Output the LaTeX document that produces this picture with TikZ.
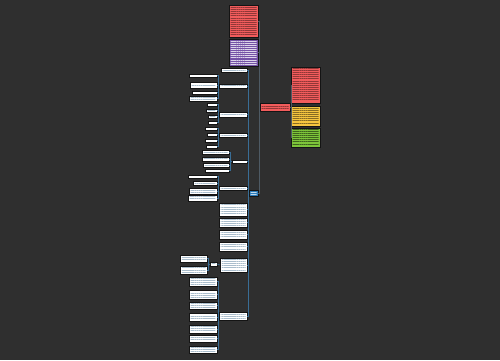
\documentclass[tikz,border=0pt]{standalone}
\usetikzlibrary{patterns.meta}
\definecolor{bg}{HTML}{2F2F2F}
\definecolor{lnc}{HTML}{3A6E96}
\definecolor{lnr}{HTML}{4E5A64}
\definecolor{redb}{HTML}{F25C5C}
\definecolor{purb}{HTML}{7452A6}
\definecolor{yelb}{HTML}{F5C53F}
\definecolor{grnb}{HTML}{7DC43A}
\definecolor{blub}{HTML}{2B7BB9}
\definecolor{wtx}{HTML}{A9BDCC}
\newcommand\bx[6]{\node[#6, minimum width={(#4-#2)*1pt}, minimum height={(#5-#3)*1pt}] (#1) at ({(#2+#4)/2},{(#3+#5)/2}) {};}
\tikzset{
  box/.style={draw=black!92, line width=0.7pt, inner sep=0pt, outer sep=0pt, anchor=center},
  txt/.style={path picture={\fill[pattern={Lines[angle=0,distance=2.1pt,line width=0.35pt]},pattern color=#1]
     ([shift={(1.5,1.3)}]path picture bounding box.north west) rectangle ([shift={(-1.5,-1.3)}]path picture bounding box.south east);}},
  wbox/.style={box, fill=white, txt=wtx},
  rbox/.style={box, fill=redb, txt=redb!60!black},
  pbox/.style={box, fill=purb, txt=white!75!purb},
  ybox/.style={box, fill=yelb, txt=yelb!55!black},
  gbox/.style={box, fill=grnb, txt=grnb!50!black},
  cbox/.style={box, fill=blub, txt=white!70!blub},
  cn/.style={draw=lnc, line width=0.6pt},
  cnr/.style={draw=lnr, line width=0.6pt},
  mainln/.style={draw=lnc, line width=0.8pt},
  mainr/.style={draw=lnr, line width=0.8pt}
}
\begin{document}
\begin{tikzpicture}[x=1pt,y=-1pt]
\fill[bg] (0,0) rectangle (500,360);
\useasboundingbox (0,0) rectangle (500,360);
% centre and right side
\bx{C}{249}{190}{258}{196}{cbox}
\bx{T1}{229}{5}{258}{37}{rbox}
\bx{T2}{229}{39}{258}{66}{pbox}
\bx{RN}{260}{103}{290}{111}{rbox}
\bx{R1}{291}{67}{320}{103}{rbox}
\bx{R2}{291}{106}{320}{126}{ybox}
\bx{R3}{291}{128}{320}{147}{gbox}
% left level 1
\bx{L1}{221}{68}{247}{72}{wbox}
\bx{L2}{219}{84}{247}{88}{wbox}
\bx{L3}{219}{112}{247}{117}{wbox}
\bx{L4}{219}{133}{247}{137}{wbox}
\bx{L5}{232}{160}{247}{163}{wbox}
\bx{L6}{219}{186}{247}{190}{wbox}
\bx{L7}{219}{203}{247}{216}{wbox}
\bx{L8}{219}{218}{247}{227}{wbox}
\bx{L9}{219}{230}{247}{239}{wbox}
\bx{L10}{219}{242}{247}{251}{wbox}
\bx{L11}{220}{258}{247}{272}{wbox}
\bx{L12}{219}{312}{247}{320}{wbox}
% level 2
\bx{a1}{189}{74}{217}{77}{wbox}
\bx{a2}{190}{82}{217}{88}{wbox}
\bx{a3}{192}{91}{217}{94}{wbox}
\bx{a4}{189}{96}{217}{101}{wbox}
\bx{b1}{207}{103}{217}{106}{wbox}
\bx{b2}{206}{109}{217}{112}{wbox}
\bx{b3}{208}{115}{217}{118}{wbox}
\bx{b4}{208}{121}{217}{124}{wbox}
\bx{c1}{205}{127}{217}{130}{wbox}
\bx{c2}{207}{133}{217}{136}{wbox}
\bx{c3}{205}{139}{217}{142}{wbox}
\bx{c4}{206}{145}{217}{148}{wbox}
\bx{d1}{202}{150}{229}{154}{wbox}
\bx{d2}{202}{157}{229}{161}{wbox}
\bx{d3}{203}{163}{229}{167}{wbox}
\bx{d4}{205}{169}{229}{172}{wbox}
\bx{e1}{188}{175}{217}{178}{wbox}
\bx{e2}{193}{181}{217}{185}{wbox}
\bx{e3}{189}{188}{217}{194}{wbox}
\bx{e4}{188}{195}{217}{201}{wbox}
\bx{s}{210}{262}{217}{266}{wbox}
\bx{g1}{180}{255}{207}{262}{wbox}
\bx{g2}{180}{266}{207}{274}{wbox}
\bx{f1}{189}{277}{217}{286}{wbox}
\bx{f2}{189}{290}{217}{299}{wbox}
\bx{f3}{189}{302}{217}{309}{wbox}
\bx{f4}{189}{313}{217}{321}{wbox}
\bx{f5}{189}{325}{217}{333}{wbox}
\bx{f6}{189}{335}{217}{342}{wbox}
\bx{f7}{189}{346}{217}{353}{wbox}
% connectors
\foreach \n in {L1,L2,L3,L4,L5,L6,L7,L8,L9,L10,L11,L12}
  \draw[mainln] (C.west) -- ++(-1,0) |- (\n.east);
\foreach \n in {T1,T2}
  \draw[mainr] (C.east) -- ++(1.2,0) |- (\n.east);
\draw[mainr] (C.east) -- ++(1.2,0) |- (RN.west);
\foreach \n in {R1,R2,R3}
  \draw[cnr] (RN.east) -- ++(0.8,0) |- (\n.west);
\foreach \n in {a1,a2,a3,a4} \draw[cn] (L2.west) -- ++(-1,0) |- (\n.east);
\foreach \n in {b1,b2,b3,b4} \draw[cn] (L3.west) -- ++(-1,0) |- (\n.east);
\foreach \n in {c1,c2,c3,c4} \draw[cn] (L4.west) -- ++(-1,0) |- (\n.east);
\foreach \n in {d1,d2,d3,d4} \draw[cn] (L5.west) -- ++(-1.3,0) |- (\n.east);
\foreach \n in {e1,e2,e3,e4} \draw[cn] (L6.west) -- ++(-1,0) |- (\n.east);
\draw[cn] (L11.west) -- (s.east);
\foreach \n in {g1,g2} \draw[cn] (s.west) -- ++(-1.4,0) |- (\n.east);
\foreach \n in {f1,f2,f3,f4,f5,f6,f7} \draw[cn] (L12.west) -- ++(-1,0) |- (\n.east);
\end{tikzpicture}
\end{document}
